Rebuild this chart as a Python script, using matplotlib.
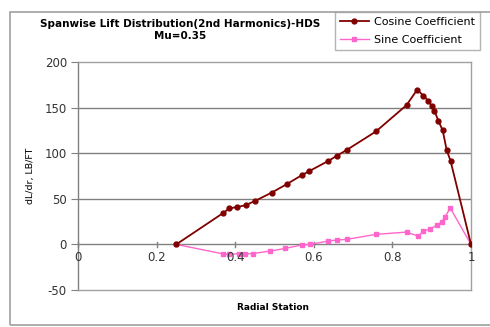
import matplotlib
matplotlib.use("Agg")
import matplotlib.pyplot as plt
from matplotlib.patches import Rectangle

title = "Spanwise Lift Distribution(2nd Harmonics)-HDS\nMu=0.35"
xlabel = "Radial Station"
ylabel = "dL/dr, LB/FT"

cos_x = [0.25, 0.368, 0.385, 0.405, 0.427, 0.45, 0.493, 0.531, 0.569, 0.589, 0.637, 0.658,
         0.684, 0.758, 0.836, 0.863, 0.879, 0.891, 0.90, 0.907, 0.917, 0.928, 0.938, 0.948, 1.0]
cos_y = [0, 34, 39.5, 41, 43, 47.6, 56.8, 66, 75.8, 80.5, 91.5, 97,
         103.6, 123.8, 152.7, 169.6, 163, 157.5, 152, 146.5, 135.5, 125, 103.6, 91.5, 0]

sin_x = [0.25, 0.37, 0.385, 0.41, 0.425, 0.445, 0.489, 0.527, 0.569, 0.59, 0.637, 0.658,
         0.684, 0.758, 0.836, 0.866, 0.879, 0.896, 0.913, 0.925, 0.934, 0.947, 1.0]
sin_y = [0, -10.5, -11, -10, -10.5, -10, -7.3, -4.4, -0.7, 0, 3.7, 4.8,
         5.5, 11, 13.5, 9, 14.6, 17, 21, 24.5, 30, 40, 0]

xticks = [0, 0.2, 0.4, 0.6, 0.8, 1]
xticklabels = ["0", "0.2", "0.4", "0.6", "0.8", "1"]
yticks = [-50, 0, 50, 100, 150, 200]

W, H = 490, 327
fig = plt.figure(figsize=(W / 100, H / 100), dpi=100)
fig.patch.set_facecolor("white")

# chart area border
fig.patches.append(Rectangle((10 / W, 1 - 325 / H), 485 / W, 313 / H, transform=fig.transFigure,
                             fill=False, edgecolor="#a0a0a0", linewidth=1.2))

L, R, T, B = 78, 471, 62, 290
ax = fig.add_axes([L / W, 1 - B / H, (R - L) / W, (B - T) / H])
ax.set_xlim(0, 1)
ax.set_ylim(-50, 200)

for v in [50, 100, 150]:
    ax.axhline(v, color="#808080", linewidth=1.0, zorder=1)
ax.axhline(0, color="#808080", linewidth=1.0, zorder=1)

for s in ax.spines.values():
    s.set_color("#a0a0a0")
    s.set_linewidth(1.0)
ax.spines["left"].set_color("#808080")

ax.plot(cos_x, cos_y, color="#800000", marker="o", markersize=3.5, linewidth=1.3,
        label="Cosine Coefficient", zorder=3)
ax.plot(sin_x, sin_y, color="#ff66cc", marker="s", markersize=3, linewidth=1.0,
        label="Sine Coefficient", zorder=2)

ax.set_yticks(yticks)
ax.set_yticklabels([str(v) for v in yticks], fontsize=8.5, color="#333333")
ax.tick_params(axis="y", length=5, color="#808080", pad=3)
ax.set_xticks([])

# x axis crossing at y=0 (Excel style)
for xv, lab in zip(xticks, xticklabels):
    ax.plot([xv, xv], [-2.5, 2.5], color="#808080", linewidth=1.0, clip_on=False, zorder=1)
    ax.text(xv, -7, lab, ha="center", va="top", fontsize=8.5, color="#333333")

fig.text(273 / W, 1 - 308 / H, xlabel, ha="center", va="center", fontsize=6.5, fontweight="bold")
fig.text(31 / W, 1 - 176 / H, ylabel, ha="center", va="center", rotation=90, fontsize=6.8)
fig.text(180 / W, 1 - 30 / H, title, ha="center", va="center", fontsize=7.5, fontweight="bold",
         linespacing=1.25)

leg = fig.legend(loc="upper left", bbox_to_anchor=(335 / W, 1 - 12 / H), fontsize=8,
                 frameon=True, fancybox=False, borderpad=0.45, handlelength=2.6,
                 labelspacing=0.75, borderaxespad=0, handletextpad=0.5)
leg.get_frame().set_edgecolor("#a0a0a0")
leg.get_frame().set_linewidth(1.0)

fig.savefig("out.png", dpi=100)
